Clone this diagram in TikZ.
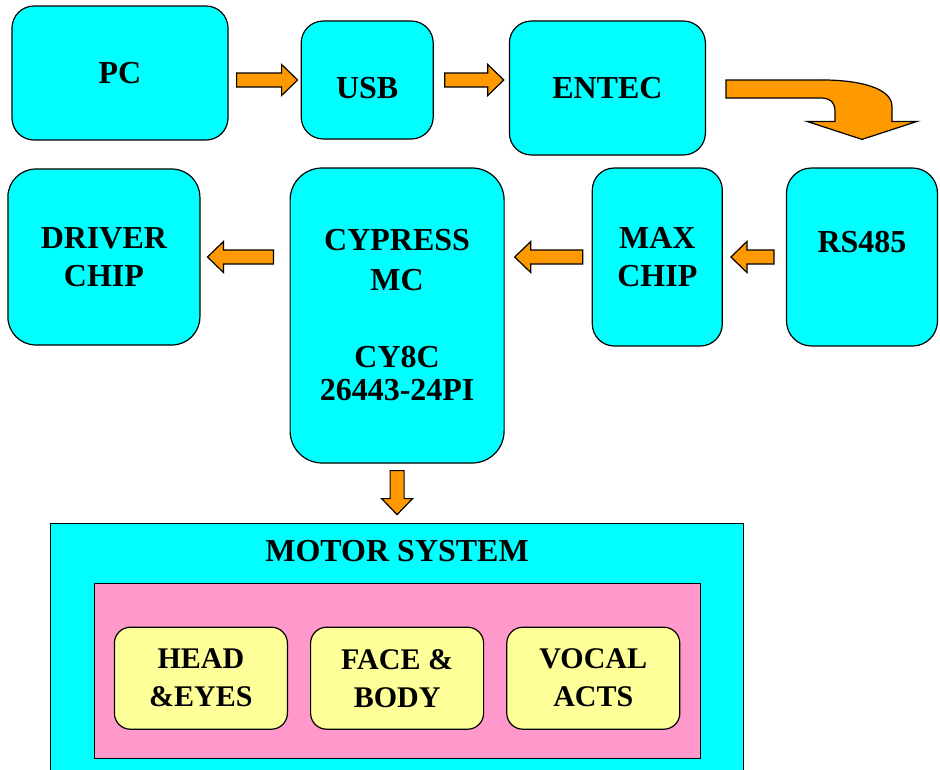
\documentclass[tikz,border=0pt]{standalone}
\usepackage{fontspec}
\setmainfont{Liberation Serif}
\usetikzlibrary{positioning, calc}
\definecolor{my_cyan}{RGB}{0, 255, 255}
\definecolor{my_orange}{RGB}{255, 153, 0}
\definecolor{my_pink}{RGB}{255, 153, 204}
\definecolor{my_yellow}{RGB}{255, 255, 153}
\tikzset {
  box/.style = {draw, line width=1.2pt, fill=my_cyan, rounded corners=22pt, rectangle, align=center, inner sep=0pt, font=\fontsize{32}{38}\selectfont\bfseries},
  frame/.style = {draw, line width=1.2pt, rectangle, inner sep=0pt},
  part/.style = {draw, line width=1.2pt, fill=my_yellow, rounded corners=16pt, rectangle, align=center, inner sep=0pt, minimum width=173pt, minimum height=102pt, font=\fontsize{30}{38}\selectfont\bfseries},
  title/.style = {font=\fontsize{32}{38}\selectfont\bfseries, inner sep=0pt},
  blockarrow/.style = {draw, line width=1.2pt, fill=my_orange, line join=miter}
}
% fat orange arrow from #1 to #2
\newcommand{\blockarrow}[2]{%
  \path[blockarrow] let \p1=(#1), \p2=(#2),
      \n1={veclen(\x2-\x1,\y2-\y1)}, \n2={atan2(\y2-\y1,\x2-\x1)} in
    [shift={(\p1)}, rotate=\n2]
    (0pt,-7pt) -- (\n1-16pt,-7pt) -- (\n1-16pt,-15.5pt) -- (\n1+0pt,0pt)
    -- (\n1-16pt,15.5pt) -- (\n1-16pt,7pt) -- (0pt,7pt) -- cycle;}

\begin{document}
\begin{tikzpicture}[x=1pt, y=-1pt]
    \useasboundingbox (0,0) rectangle (940,769);
    % top row
    \node[box, minimum width=216pt, minimum height=134pt] (pc) at (120,73) {PC};
    \node[box, minimum width=132pt, minimum height=118pt, right=72pt of pc, yshift=-7pt] (usb) {\raisebox{0pt}[36pt][0pt]{USB}};
    \node[box, minimum width=196pt, minimum height=134pt, right=75pt of usb, yshift=-8pt] (entec) {ENTEC};
    % second row
    \node[box, minimum width=151pt, minimum height=178pt, rounded corners=25pt] (rs485) at (862,257) {\raisebox{30pt}{RS485}};
    \node[box, minimum width=130pt, minimum height=178pt, left=63pt of rs485] (maxchip) {MAX\\CHIP};
    \node[box, minimum width=214pt, minimum height=295pt, rounded corners=32pt, left=87pt of maxchip.north west, anchor=north east] (cypress) {CYPRESS\\[2pt]MC\\[39pt]CY8C\\[-5pt]26443-24PI};
    \node[box, minimum width=192pt, minimum height=176pt, rounded corners=28pt, left=89pt of cypress.north west, anchor=north east, yshift=-1pt] (driver) {DRIVER\\CHIP};
    % motor system
    \node[frame, fill=my_cyan, minimum width=693pt, minimum height=260pt, below=59pt of cypress] (motor) {};
    \node[title] (motortitle) at ($(motor.north)+(0,28)$) {MOTOR SYSTEM};
    \node[frame, fill=my_pink, minimum width=606pt, minimum height=175pt, below=60pt of motor.north] (body) {};
    \node[part, below=44pt of body.north] (face) {FACE \&\\BODY};
    \node[part, left=22pt of face] (head) {HEAD\\\&EYES};
    \node[part, right=22pt of face] (vocal) {VOCAL\\ACTS};

    \blockarrow{$(pc.east |- usb.west)+(8,0)$}{$(usb.west)+(-3,0)$}
    \blockarrow{$(usb.east)+(11,0)$}{$(entec.west |- usb.east)+(-5,0)$}
    \blockarrow{$(rs485.west)+(-12,0)$}{$(maxchip.east)+(8,0)$}
    \blockarrow{$(maxchip.west)+(-9,0)$}{$(cypress.east |- maxchip.west)+(10,0)$}
    \blockarrow{$(cypress.west |- driver.east)+(-16,0)$}{$(driver.east)+(7,0)$}
    \blockarrow{$(cypress.south)+(0,7)$}{$(motor.north)+(0,-8)$}

    % bent arrow down to RS485
    \coordinate (bendtail) at ($(entec.east)+(20,0)$);
    \coordinate (bendtip) at ($(rs485.north)+(0,-28)$);
    \draw[blockarrow] ($(bendtail)+(0,-8)$) -- ($(bendtail)+(92,-8)$)
      .. controls ($(bendtip)+(-5,-60)$) and ($(bendtip)+(30,-52)$) .. ($(bendtip)+(30,-33)$)
      -- ($(bendtip)+(30,-18)$) -- ($(bendtip)+(55,-18)$) -- (bendtip)
      -- ($(bendtip)+(-55,-18)$) -- ($(bendtip)+(-27,-18)$) -- ($(bendtip)+(-27,-28)$)
      .. controls ($(bendtip)+(-27,-38)$) and ($(bendtip)+(-33,-42)$) .. ($(bendtail)+(92,10)$)
      -- ($(bendtail)+(0,10)$) -- cycle;
\end{tikzpicture}
\end{document}
